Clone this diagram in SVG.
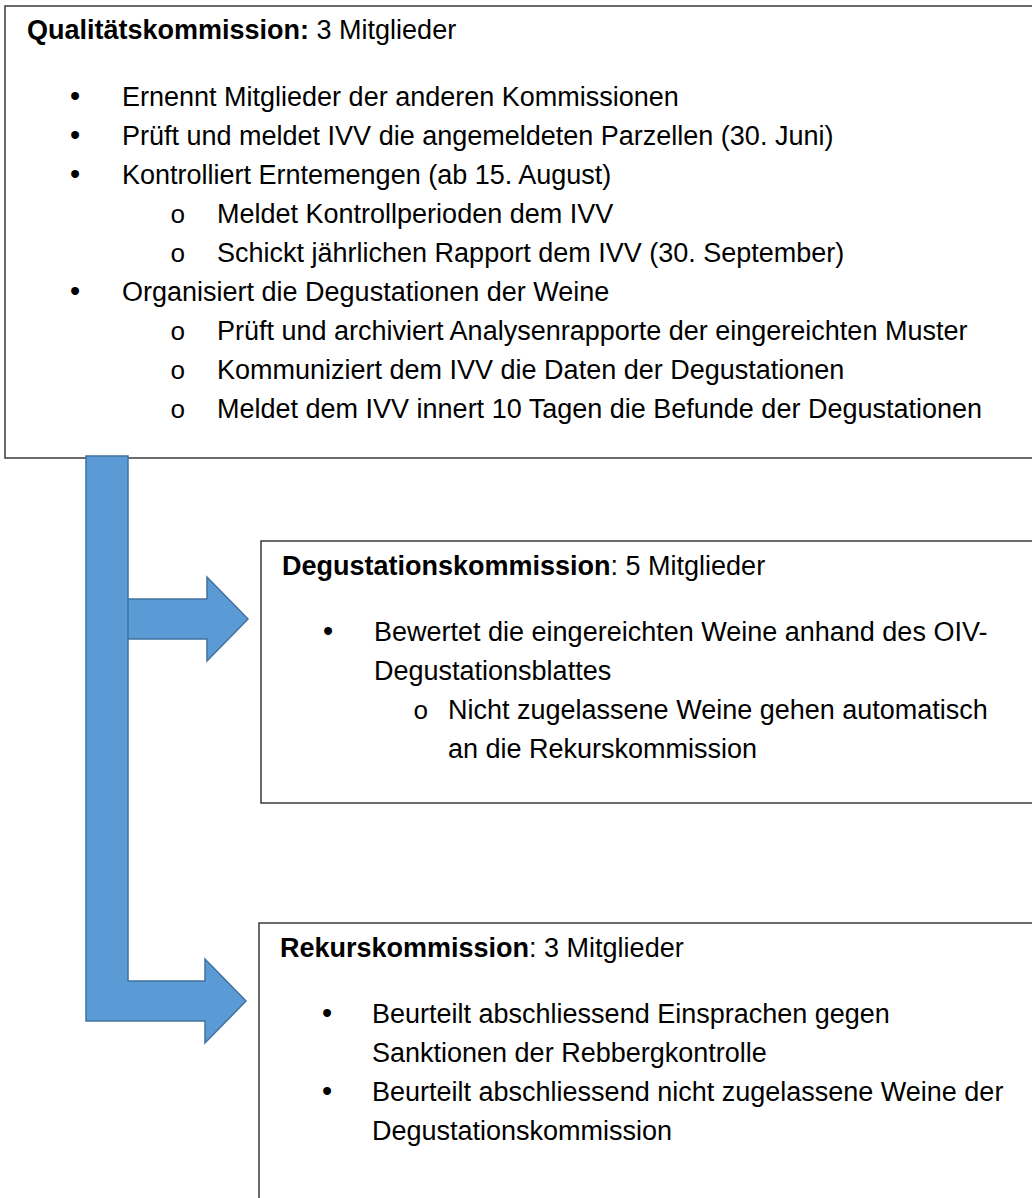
<svg xmlns="http://www.w3.org/2000/svg" width="1032" height="1198" viewBox="0 0 1032 1198">
<style>
.box{fill:#fff;stroke:#3a3a3a;stroke-width:1.5}
.t{font-family:"Liberation Sans",Arial,sans-serif;font-size:27px;fill:#000}
.b{font-weight:bold}
.bul{font-family:"Liberation Sans",Arial,sans-serif;font-size:29px;fill:#000}
.sub{font-family:"Liberation Mono","Courier New",monospace;font-size:26px;fill:#000}
.arr{fill:#5B9BD5;stroke:#41719C;stroke-width:1.5;stroke-linejoin:miter}
</style>
<rect width="1032" height="1198" fill="#fff"/>
<g id="qualitaetskommission">
<rect class="box" x="5" y="6" width="1040" height="452"/>
<text class="t" x="27" y="39"><tspan class="b">Qualitätskommission:</tspan> 3 Mitglieder</text>
<text class="bul" x="70" y="106">•</text>
<text class="t" x="122" y="106">Ernennt Mitglieder der anderen Kommissionen</text>
<text class="bul" x="70" y="145">•</text>
<text class="t" x="122" y="145">Prüft und meldet IVV die angemeldeten Parzellen (30. Juni)</text>
<text class="bul" x="70" y="184">•</text>
<text class="t" x="122" y="184">Kontrolliert Erntemengen (ab 15. August)</text>
<text class="sub" x="170" y="223">o</text>
<text class="t" x="217" y="223">Meldet Kontrollperioden dem IVV</text>
<text class="sub" x="170" y="262">o</text>
<text class="t" x="217" y="262">Schickt jährlichen Rapport dem IVV (30. September)</text>
<text class="bul" x="70" y="301">•</text>
<text class="t" x="122" y="301">Organisiert die Degustationen der Weine</text>
<text class="sub" x="170" y="340">o</text>
<text class="t" x="217" y="340">Prüft und archiviert Analysenrapporte der eingereichten Muster</text>
<text class="sub" x="170" y="379">o</text>
<text class="t" x="217" y="379">Kommuniziert dem IVV die Daten der Degustationen</text>
<text class="sub" x="170" y="418">o</text>
<text class="t" x="217" y="418">Meldet dem IVV innert 10 Tagen die Befunde der Degustationen</text>
</g>
<g id="degustationskommission">
<rect class="box" x="261" y="541" width="790" height="262"/>
<text class="t" x="282" y="575"><tspan class="b">Degustationskommission</tspan>: 5 Mitglieder</text>
<text class="bul" x="323" y="641">•</text>
<text class="t" x="374" y="641">Bewertet die eingereichten Weine anhand des OIV-</text>
<text class="t" x="374" y="680">Degustationsblattes</text>
<text class="sub" x="413" y="719">o</text>
<text class="t" x="448" y="719">Nicht zugelassene Weine gehen automatisch</text>
<text class="t" x="448" y="758">an die Rekurskommission</text>
</g>
<g id="rekurskommission">
<rect class="box" x="259" y="923" width="790" height="300"/>
<text class="t" x="280" y="957"><tspan class="b">Rekurskommission</tspan>: 3 Mitglieder</text>
<text class="bul" x="322" y="1023">•</text>
<text class="t" x="372" y="1023">Beurteilt abschliessend Einsprachen gegen</text>
<text class="t" x="372" y="1062">Sanktionen der Rebbergkontrolle</text>
<text class="bul" x="322" y="1101">•</text>
<text class="t" x="372" y="1101">Beurteilt abschliessend nicht zugelassene Weine der</text>
<text class="t" x="372" y="1140">Degustationskommission</text>
</g>
<g id="connectors">
<path class="arr" d="M110,599 L207,599 L207,577 L248,619 L207,661 L207,639 L110,639 Z"/>
<path class="arr" d="M86,456 L128,456 L128,981 L205,981 L205,959 L246,1001 L205,1043 L205,1021 L86,1021 Z"/>
</g>
</svg>
